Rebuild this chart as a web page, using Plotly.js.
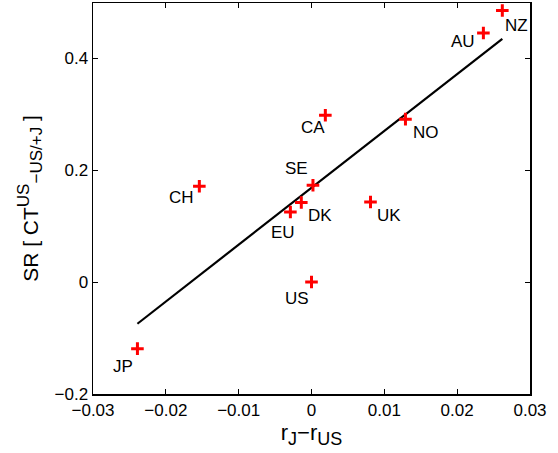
<!DOCTYPE html>
<html>
<head>
<meta charset="utf-8">
<script src="https://cdn.plot.ly/plotly-3.0.1.min.js"></script>
<style>html,body{margin:0;padding:0;background:#fff;}#chart{width:558px;height:453px;}</style>
</head>
<body>
<div id="chart"></div>
<script>
// Data
const countries = ["NZ", "AU", "NO", "CA", "SE", "DK", "EU", "CH", "US", "UK", "JP"];
const rateDiff  = [0.0262, 0.0236, 0.0129, 0.0019, 0.0002, -0.0014, -0.0029, -0.0154, 0.0000, 0.0081, -0.0239];
const sharpe    = [0.485, 0.445, 0.291, 0.298, 0.173, 0.142, 0.125, 0.171, 0.000, 0.143, -0.119];
// Fitted line endpoints
const fitX = [-0.0239, 0.0262];
const fitY = [-0.0745, 0.4346];
const xTicks = [-0.03, -0.02, -0.01, 0, 0.01, 0.02, 0.03];
const yTicks = [-0.2, 0, 0.2, 0.4];

// label offsets in pixels (dx right, dy down) – styling only
const labelOffsets = {
  NZ: [14, 15], AU: [-20, 9], NO: [21, 13], CA: [-12, 12], SE: [-16, -17],
  DK: [19, 13], EU: [-7, 20], CH: [-18, 11], US: [-15, 16], UK: [18, 13], JP: [-14, 18]
};

const font = "Liberation Sans, Arial, Helvetica, sans-serif";
const fmt = v => v === 0 ? "0" : String(v).replace("-", "\u2212");

const traces = [
  {
    x: fitX, y: fitY, mode: "lines", type: "scatter",
    line: {color: "black", width: 2.2}, hoverinfo: "skip", showlegend: false
  },
  {
    x: rateDiff, y: sharpe, mode: "markers", type: "scatter",
    marker: {symbol: "cross-thin", size: 9, line: {color: "red", width: 3}, color: "red"},
    showlegend: false
  }
];

const annotations = countries.map((c, i) => ({
  x: rateDiff[i], y: sharpe[i], xref: "x", yref: "y",
  text: c, showarrow: false,
  xshift: labelOffsets[c][0], yshift: -labelOffsets[c][1],
  font: {family: font, size: 17, color: "#000"}
}));

const sub = (s, px) => `<sub><span style="font-size:${px}px">${s}</span></sub>`;
const sup = (s, px) => `<sup><span style="font-size:${px}px">${s}</span></sup>`;

const layout = {
  width: 558, height: 453,
  margin: {l: 93, r: 28, t: 3, b: 59},
  paper_bgcolor: "white", plot_bgcolor: "white",
  font: {family: font, size: 17, color: "#000"},
  xaxis: {
    range: [-0.03, 0.03], tickvals: xTicks, ticktext: xTicks.map(fmt),
    ticks: "inside", ticklen: 5, tickcolor: "#000", mirror: "ticks",
    showline: true, linecolor: "#000", linewidth: 1.5, showgrid: false, zeroline: false,
    tickfont: {family: font, size: 17},
    title: {text: "r" + sub("J", 18) + "\u2212r" + sub("US", 18), font: {family: font, size: 22}, standoff: 4}
  },
  yaxis: {
    range: [-0.2, 0.4985], tickvals: yTicks, ticktext: yTicks.map(fmt),
    ticks: "inside", ticklen: 5, tickcolor: "#000", mirror: "ticks",
    showline: true, linecolor: "#000", linewidth: 1.5, showgrid: false, zeroline: false,
    tickfont: {family: font, size: 17},
    title: {text: "SR [ CT" + sup("US", 17) + sub("\u2212US/+J", 17) + " ]", font: {family: font, size: 21}, standoff: 10}
  },
  annotations: annotations
};

Plotly.newPlot("chart", traces, layout, {displayModeBar: false, staticPlot: true});
</script>
</body>
</html>
